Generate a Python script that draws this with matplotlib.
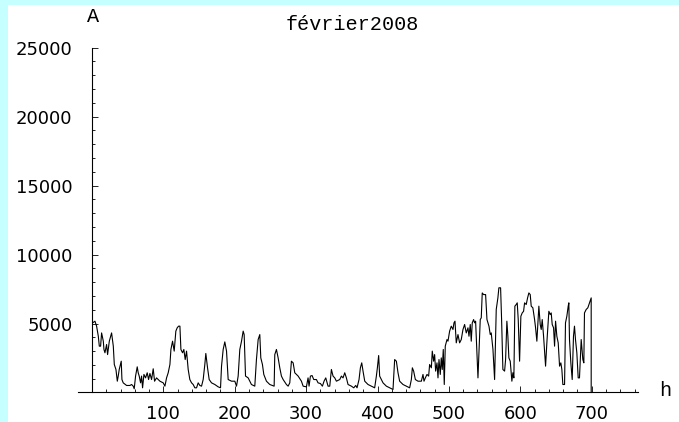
import matplotlib
matplotlib.use("Agg")
import matplotlib.pyplot as plt

# hourly current, February 2008
hours = [
    1, 4.2, 6.5, 8.9, 10.3, 12.1, 13.5, 15.9, 16.8, 18.2, 20.5, 21.9, 24.3, 27.5, 29.9, 31.3, 33.6, 35.5, 36.8, 38.2,
    41.0, 42.0, 43.8, 48.5, 53.2, 55.5, 57.8, 59.2, 61.1, 63.4, 64.8, 66.2, 68.1, 69.5, 70.9, 72.8, 75.1, 77.4, 79.3, 81.2,
    83.5, 85.8, 87.7, 90.5, 95.2, 99.8, 102.2, 104.5, 106.8, 109.2, 110.6, 112.9, 115.2, 117.5, 119.4, 121.3, 123.2, 124.6, 126.9, 128.7,
    130.6, 132.5, 134.8, 137.1, 139.5, 141.8, 144.1, 146.5, 148.8, 151.1, 153.5, 155.8, 158.1, 159.5, 161.9, 164.2, 167.5, 172.1, 176.8, 180.1,
    181.5, 183.8, 186.1, 188.5, 190.8, 195.5, 200.1, 202.5, 204.8, 207.1, 209.5, 211.8, 213.2, 215.1, 218.8, 223.4, 228.1, 230.4, 232.8, 235.1,
    236.5, 238.8, 240.7, 244.4, 249.1, 252.8, 255.2,
    256.1, 258.4, 260.8, 263.1, 265.4, 267.8, 272.4, 274.8, 277.1, 279.4, 281.8, 284.1, 288.8, 293.4, 295.8, 300.4, 302.7, 304.1, 306.0, 308.3,
    310.7, 314.4, 316.7, 320.0, 322.8, 325.1, 327.5, 330.7, 333.1, 335.4, 337.7, 340.1, 342.4, 347.1, 349.4, 351.7, 354.1, 356.4, 358.7, 363.4,
    366.7, 369.5, 371.3, 374.1, 376.0, 377.9, 379.7, 382.1, 386.7, 391.4, 396.0, 398.4, 399.8, 401.6, 403.0, 407.7, 412.4, 417.0, 421.7, 424.0,
    426.4, 428.7, 431.0, 435.7, 440.4, 445.0, 447.4, 448.8, 450.6, 453.0, 456.7, 461.4, 463.7, 465.1, 467.0, 469.3, 471.6, 473.0, 475.4, 476.7,
    478.6, 480.0, 481.4, 483.3, 484.7, 486.1, 487.9, 489.3, 490.7, 492.1, 493.5, 494.9, 497.3, 498.7, 501.0, 503.3, 505.7, 507.1, 508.5, 510.3,
    512.7, 515.0, 517.3, 519.7, 522.0, 524.3, 526.7,
    528.1, 529.9, 531.3, 532.7, 534.6, 536.0, 537.4, 539.3, 540.7, 542.1, 543.9, 545.3, 546.7, 548.6, 551.4, 553.3, 556.1, 557.9, 559.3, 561.7,
    564.0, 566.3, 568.6, 570.0, 572.4, 573.8, 575.6, 578.0, 579.4, 581.2, 582.6, 584.0, 585.9, 588.2, 589.6, 591.0, 592.4, 594.3, 595.7, 597.1,
    599.0, 600.8, 602.7, 604.6, 606.0, 608.3, 610.2, 612.0, 613.9, 615.3, 617.6, 620.0, 621.4, 623.2, 624.6, 626.0, 627.9, 629.3, 630.7, 632.6,
    635.4, 637.2, 638.6, 640.0, 641.9, 643.3, 644.7, 646.6, 648.0, 649.4, 651.2, 653.1, 655.0, 656.8, 658.2, 659.6, 662.0, 663.3, 665.2, 667.1,
    668.0, 668.9, 670.8, 672.7, 674.5, 675.9, 677.3, 679.2, 681.1, 682.9, 685.3, 687.6, 689.0, 689.9, 692.3, 694.6, 696.9, 699.3, 699.3,
]
amps = [
    5050, 5170, 4810, 4080, 3360, 3360, 4320, 3720, 3120, 2880, 3480, 2750, 3720, 4320, 3360, 2030, 1670, 820, 1190, 1670,
    2270, 940, 700, 510, 510, 580, 460, 270, 1190, 1860, 1430, 1190, 700, 1190, 340, 1310, 1060, 1430, 940, 1380,
    940, 1720, 820, 1060, 820, 700, 460, 1060, 1430, 2030, 3120, 3720, 3000, 4450, 4690, 4810, 4810, 3120, 2880, 3120,
    2390, 3000, 1670, 940, 700, 580, 340, 340, 700, 510, 460, 940, 2030, 2830, 1790, 940, 700, 580, 410, 340,
    1910, 3120, 3670, 3000, 940, 820, 820, 460, 1190, 3120, 3720, 4450, 4200, 1190, 1060, 580, 460, 2390, 3840, 4200,
    2510, 2030, 1310, 820, 580, 510, 460,
    2750, 3120, 2510, 1790, 1190, 940, 580, 460, 700, 2270, 2150, 1430, 1190, 820, 460, 410, 1060, 460, 1190, 1230,
    940, 940, 700, 650, 460, 820, 1060, 460, 460, 1670, 1190, 1060, 820, 940, 1190, 1060, 1430, 1060, 580, 460,
    340, 510, 340, 940, 1790, 2150, 1550, 820, 580, 460, 340, 1190, 1790, 2680, 1190, 700, 460, 340, 220, 2390,
    2270, 1430, 820, 580, 460, 340, 940, 1790, 1550, 940, 820, 820, 1310, 820, 1060, 1310, 1190, 2030, 1790, 3000,
    2270, 2750, 1550, 2150, 1060, 2390, 1310, 2510, 1670, 3120, 580, 3360, 3840, 3720, 4450, 4810, 4570, 5050, 5170, 3600,
    4200, 3600, 3840, 4570, 4930, 4320, 4690,
    4080, 4930, 3720, 5050, 5290, 5050, 5170, 2880, 1060, 2880, 5290, 5410, 7220, 7100, 7100, 5290, 4810, 4200, 4320, 3120,
    940, 6020, 6860, 7590, 7590, 5290, 1670, 1550, 2390, 5170, 4080, 2510, 2270, 820, 1430, 1060, 6260, 6380, 6500, 5290,
    2270, 5530, 5770, 5890, 6500, 6380, 6860, 7220, 7100, 6260, 6140, 5290, 4690, 3720, 5050, 6260, 4930, 4570, 5290, 4080,
    1910, 3600, 4690, 5890, 5650, 5770, 4930, 4690, 3360, 5170, 4080, 3600, 1910, 2150, 1670, 580, 580, 5050, 5530, 6260,
    6500, 3840, 2150, 940, 4080, 4810, 3840, 2880, 1060, 1060, 3840, 2390, 2150, 5770, 6020, 6140, 6500, 6860, 0,
]

x_major = [100, 200, 300, 400, 500, 600, 700]
y_major = [5000, 10000, 15000, 20000, 25000]

W, H = 679, 422
mono = "Liberation Mono"

fig = plt.figure(figsize=(W / 100, H / 100), dpi=100, facecolor="#c6ffff")
ax = fig.add_axes([8 / W, 0, (W - 8) / W, (H - 5) / H], facecolor="white")

ax.plot(hours, amps, color="black", lw=0.8)

ax.set_xlim(-117.6, 822.3)
ax.set_ylim(-2139, 28096)

for side in ["top", "right"]:
    ax.spines[side].set_visible(False)
ax.spines["left"].set_position(("data", 0))
ax.spines["left"].set_bounds(0, 25000)
ax.spines["bottom"].set_position(("data", 0))
ax.spines["bottom"].set_bounds(-20, 765)
for side in ["left", "bottom"]:
    ax.spines[side].set_linewidth(0.8)

ax.set_xticks(x_major)
ax.set_xticks(list(range(0, 761, 20)), minor=True)
ax.set_yticks(y_major)
ax.set_yticks(list(range(0, 25001, 1000)), minor=True)
ax.set_xticklabels([str(v) for v in x_major])
ax.set_yticklabels([str(v) for v in y_major])

ax.tick_params(axis="both", which="both", direction="in", width=0.6, labelsize=13, colors="black")
ax.tick_params(axis="both", which="major", length=4)
ax.tick_params(axis="both", which="minor", length=2.5)
ax.tick_params(axis="y", which="major", pad=14)
ax.tick_params(axis="x", which="major", pad=9)

fig.text(93.5 / W, 1 - 17 / H, "A", family=mono, fontsize=14.5, ha="center", va="center")
fig.text(665 / W, 1 - 390 / H, "h", family=mono, fontsize=14.5, ha="center", va="center")
fig.text(352 / W, 1 - 24 / H, "février2008", family=mono, fontsize=14.5, ha="center", va="center")

fig.savefig("out.png", dpi=100, facecolor=fig.get_facecolor())
